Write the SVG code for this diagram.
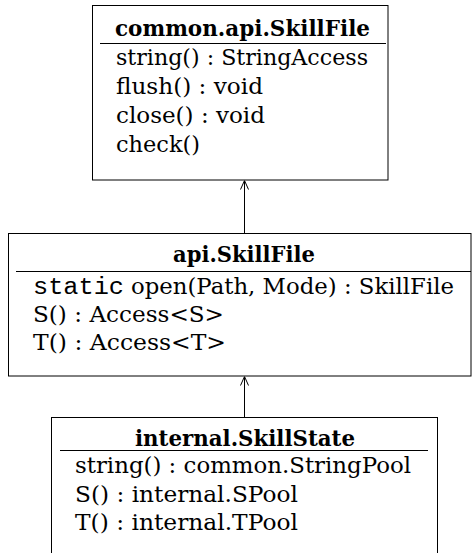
<svg xmlns="http://www.w3.org/2000/svg" width="472" height="553" viewBox="0 0 472 553">
  <style>
    .box { fill: #ffffff; stroke: #000000; stroke-width: 1; }
    .sep { stroke: #000000; stroke-width: 1.2; }
    .title { font-family: "DejaVu Serif", "Liberation Serif", serif; font-weight: bold; font-size: 22px; fill: #000000; }
    .member { font-family: "DejaVu Serif", "Liberation Serif", serif; font-size: 22.5px; fill: #000000; }
    .mono { font-family: "Liberation Mono", "DejaVu Sans Mono", monospace; font-size: 23px; fill: #000000; }
    .edge { stroke: #000000; stroke-width: 1; fill: none; }
  </style>
  <defs>
    <marker id="open-arrow" viewBox="0 0 10 10" refX="10" refY="5" markerWidth="10" markerHeight="10" markerUnits="userSpaceOnUse" orient="auto">
      <path d="M1,1 L10,5 L1,9" fill="none" stroke="#000000" stroke-width="1"/>
    </marker>
  </defs>

  <rect width="472" height="553" fill="#ffffff"/>

  <!-- interface: common.api.SkillFile -->
  <g id="common-api-skillfile">
    <rect class="box" x="92.5" y="5.5" width="295.5" height="174.5"/>
    <text class="title" x="115" y="36" textLength="255" lengthAdjust="spacingAndGlyphs">common.api.SkillFile</text>
    <line class="sep" x1="100" y1="43.5" x2="386" y2="43.5"/>
    <text class="member" x="116" y="65" textLength="252" lengthAdjust="spacingAndGlyphs">string() : StringAccess</text>
    <text class="member" x="116" y="94" textLength="147" lengthAdjust="spacingAndGlyphs">flush() : void</text>
    <text class="member" x="116" y="123" textLength="149" lengthAdjust="spacingAndGlyphs">close() : void</text>
    <text class="member" x="116" y="152" textLength="84" lengthAdjust="spacingAndGlyphs">check()</text>
  </g>

  <!-- class: api.SkillFile -->
  <g id="api-skillfile">
    <rect class="box" x="8.5" y="233.5" width="462.5" height="142.5"/>
    <text class="title" x="173" y="262" textLength="142" lengthAdjust="spacingAndGlyphs">api.SkillFile</text>
    <line class="sep" x1="16" y1="271.5" x2="471" y2="271.5"/>
    <text class="mono" x="33" y="294" textLength="91" lengthAdjust="spacingAndGlyphs">static</text>
    <text class="member" x="131" y="294" textLength="323" lengthAdjust="spacingAndGlyphs">open(Path, Mode) : SkillFile</text>
    <text class="member" x="33" y="322" textLength="191" lengthAdjust="spacingAndGlyphs">S() : Access&lt;S&gt;</text>
    <text class="member" x="33" y="350" textLength="193" lengthAdjust="spacingAndGlyphs">T() : Access&lt;T&gt;</text>
  </g>

  <!-- class: internal.SkillState -->
  <g id="internal-skillstate">
    <rect class="box" x="51.5" y="417.5" width="386" height="160"/>
    <text class="title" x="135" y="446" textLength="220" lengthAdjust="spacingAndGlyphs">internal.SkillState</text>
    <line class="sep" x1="60" y1="450.5" x2="428" y2="450.5"/>
    <text class="member" x="75" y="473" textLength="336" lengthAdjust="spacingAndGlyphs">string() : common.StringPool</text>
    <text class="member" x="75" y="502" textLength="223" lengthAdjust="spacingAndGlyphs">S() : internal.SPool</text>
    <text class="member" x="75" y="530" textLength="223" lengthAdjust="spacingAndGlyphs">T() : internal.TPool</text>
  </g>

  <!-- inheritance connectors -->
  <g id="connectors">
    <line class="edge" x1="244.5" y1="233" x2="244.5" y2="180.5" marker-end="url(#open-arrow)"/>
    <line class="edge" x1="244.5" y1="417" x2="244.5" y2="376.5" marker-end="url(#open-arrow)"/>
  </g>
</svg>
